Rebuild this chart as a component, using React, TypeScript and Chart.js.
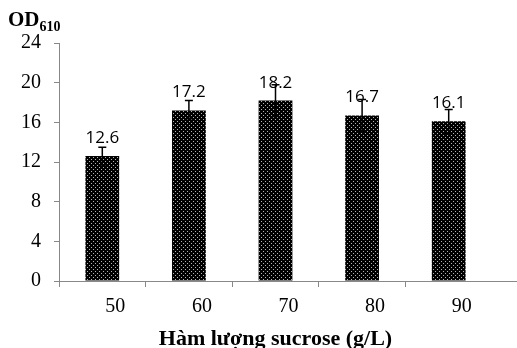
import React, { useEffect, useRef } from 'react';
import { Chart, registerables } from 'chart.js';

Chart.register(...registerables);

const categories = ['50', '60', '70', '80', '90'];
const odValues = [12.6, 17.2, 18.2, 16.7, 16.1];
const odErrors = [0.9, 1.0, 1.6, 1.6, 1.2];
const yMin = 0;
const yMax = 24;
const yStep = 4;
const yTitleMain = 'OD';
const yTitleSub = '610';
const xTitle = 'Hàm lượng sucrose (g/L)';

function makePattern(): CanvasPattern | string {
  const c = document.createElement('canvas');
  c.width = 4;
  c.height = 4;
  const g = c.getContext('2d');
  if (!g) return '#111';
  g.fillStyle = '#000';
  g.fillRect(0, 0, 4, 4);
  g.fillStyle = '#b4b4b4';
  g.fillRect(1, 1, 1, 1);
  g.fillRect(3, 3, 1, 1);
  return g.createPattern(c, 'repeat') || '#111';
}

const labelsAndErrors = {
  id: 'labelsAndErrors',
  afterDatasetsDraw(chart: any) {
    const meta = chart.getDatasetMeta(0);
    const y = chart.scales.y;
    const ctx = chart.ctx;
    ctx.save();
    ctx.font = '17px "Open Sans"';
    ctx.textAlign = 'center';
    ctx.textBaseline = 'alphabetic';
    ctx.fillStyle = '#000';
    meta.data.forEach((bar: any, i: number) => {
      ctx.fillText(String(odValues[i]), bar.x, bar.y - 13);
    });
    ctx.strokeStyle = '#000';
    ctx.lineWidth = 1.5;
    meta.data.forEach((bar: any, i: number) => {
      const v = odValues[i];
      const e = odErrors[i];
      const top = y.getPixelForValue(v + e);
      const bot = y.getPixelForValue(v - e);
      ctx.beginPath();
      ctx.moveTo(bar.x, top);
      ctx.lineTo(bar.x, bot);
      ctx.moveTo(bar.x - 4, top);
      ctx.lineTo(bar.x + 4, top);
      ctx.moveTo(bar.x - 4, bot);
      ctx.lineTo(bar.x + 4, bot);
      ctx.stroke();
    });
    ctx.restore();
  },
  afterDraw(chart: any) {
    const { ctx, chartArea } = chart;
    ctx.save();
    ctx.strokeStyle = '#888';
    ctx.lineWidth = 1;
    const yy = Math.round(chartArea.bottom) + 0.5;
    ctx.beginPath();
    ctx.moveTo(chartArea.right, yy);
    ctx.lineTo(chart.width, yy);
    ctx.stroke();
    ctx.restore();
  },
};

export default function App() {
  const ref = useRef<HTMLCanvasElement | null>(null);

  useEffect(() => {
    if (!ref.current) return;
    const chart = new Chart(ref.current, {
      type: 'bar',
      data: {
        labels: categories,
        datasets: [
          {
            data: odValues,
            backgroundColor: makePattern() as any,
            borderWidth: 0,
            barPercentage: 0.39,
            categoryPercentage: 1,
          },
        ],
      },
      options: {
        responsive: false,
        animation: false,
        layout: { padding: { left: 8, right: 25, top: 43, bottom: 0 } },
        plugins: {
          legend: { display: false },
          tooltip: { enabled: false },
        },
        scales: {
          x: {
            offset: true,
            grid: {
              offset: true,
              drawOnChartArea: false,
              tickLength: 6,
              tickColor: (c: any) => (c.type === 'tick' ? '#888' : 'rgba(0,0,0,0)'),
              color: '#888',
            },
            border: { color: '#888', width: 1 },
            ticks: {
              color: '#000',
              font: { family: '"Liberation Serif"', size: 20 },
              padding: 8,
              labelOffset: 13,
            },
            title: {
              display: true,
              text: xTitle,
              color: '#000',
              font: { family: '"Liberation Serif"', size: 22, weight: 'bold', lineHeight: 1 },
              padding: { top: 1, bottom: -2 },
            },
          },
          y: {
            min: yMin,
            max: yMax,
            ticks: {
              stepSize: yStep,
              color: '#000',
              font: { family: '"Liberation Serif"', size: 20 },
              padding: 13,
            },
            grid: {
              drawOnChartArea: false,
              tickLength: 5,
              color: '#888',
            },
            border: { color: '#888', width: 1 },
          },
        },
      },
      plugins: [labelsAndErrors],
    });
    return () => chart.destroy();
  }, []);

  return (
    <div style={{ position: 'absolute', left: 0, top: 0, width: 517, height: 348 }}>
      <canvas ref={ref} width={517} height={348} style={{ display: 'block' }} />
      <div
        style={{
          position: 'absolute',
          left: 8,
          top: 9,
          fontFamily: '"Liberation Serif"',
          fontWeight: 'bold',
          fontSize: 21,
          lineHeight: '21px',
          color: '#000',
          whiteSpace: 'nowrap',
        }}
      >
        {yTitleMain}
        <span style={{ fontSize: 14, position: 'relative', top: 5 }}>{yTitleSub}</span>
      </div>
    </div>
  );
}
